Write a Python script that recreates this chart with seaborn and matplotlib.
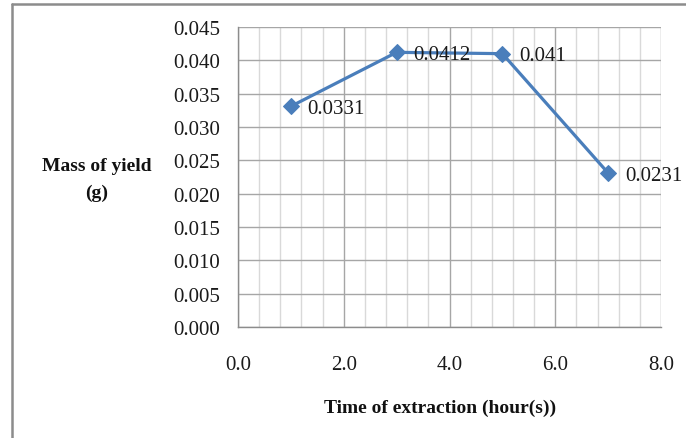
import matplotlib
matplotlib.use("Agg")
import matplotlib.pyplot as plt
from matplotlib.lines import Line2D
from matplotlib.ticker import MultipleLocator, FormatStrFormatter
import seaborn as sns
import pandas as pd

# Extraction time (hours) and mass of yield (g)
hours = [1.0, 3.0, 5.0, 7.0]
yield_mass = [0.0331, 0.0412, 0.0410, 0.0231]
point_labels = ["0.0331", "0.0412", "0.041", "0.0231"]

df = pd.DataFrame({"hours": hours, "mass": yield_mass})

sns.set_theme(style="white")
plt.rcParams["font.family"] = ["Liberation Serif", "DejaVu Serif"]

W, H = 686, 439
fig = plt.figure(figsize=(W / 100, H / 100), dpi=100)
ax = fig.add_axes([238 / W, 1 - 328 / H, (661 - 238) / W, (328 - 28) / H])

line_color = "#4A7EBB"
sns.lineplot(data=df, x="hours", y="mass", ax=ax, color=line_color,
             linewidth=2.3, marker="D", markersize=8.5,
             markeredgecolor=line_color, markerfacecolor=line_color)

ax.set_xlim(0, 8)
ax.set_ylim(0, 0.045)
ax.xaxis.set_major_locator(MultipleLocator(2))
ax.xaxis.set_minor_locator(MultipleLocator(0.4))
ax.yaxis.set_major_locator(MultipleLocator(0.005))
ax.xaxis.set_major_formatter(FormatStrFormatter("%.1f"))
ax.yaxis.set_major_formatter(FormatStrFormatter("%.3f"))

ax.grid(which="major", axis="both", color="#a6a6a6", linewidth=1.0)
ax.grid(which="minor", axis="x", color="#d9d9d9", linewidth=1.0)
ax.set_axisbelow(True)

for side in ("top", "right"):
    ax.spines[side].set_visible(False)
for side in ("left", "bottom"):
    ax.spines[side].set_color("#8c8c8c")
    ax.spines[side].set_linewidth(1.0)

ax.tick_params(axis="both", which="major", direction="out", length=6,
               width=1.0, color="#8c8c8c", labelsize=15, labelcolor="#1a1a1a")
ax.tick_params(axis="x", which="major", pad=14)
ax.tick_params(axis="y", which="major", pad=7)
ax.tick_params(axis="x", which="minor", length=0)

ax.set_xlabel("")
ax.set_ylabel("")

for x, y, lab in zip(hours, yield_mass, point_labels):
    ax.annotate(lab, (x, y), xytext=(12, -1.5), textcoords="offset points",
                va="center", ha="left", fontsize=15, color="#1a1a1a")

fig.text(440 / W, 1 - 408 / H, "Time of extraction (hour(s))", ha="center",
         va="center", fontsize=14, fontweight="bold", color="#111111")
fig.text(97 / W, 1 - 167 / H, "Mass of yield", ha="center", va="center",
         fontsize=14, fontweight="bold", color="#111111")
fig.text(97 / W, 1 - 193 / H, "(g)", ha="center", va="center",
         fontsize=14, fontweight="bold", color="#111111")

# Chart-area frame (top and left edges)
frame_kw = dict(color="#8c8c8c", linewidth=1.8, transform=fig.transFigure)
fig.add_artist(Line2D([12 / W, 1.0], [1 - 4.5 / H, 1 - 4.5 / H], **frame_kw))
fig.add_artist(Line2D([12 / W, 12 / W], [0.0, 1 - 4.5 / H], **frame_kw))

fig.savefig("out.png", dpi=100)
